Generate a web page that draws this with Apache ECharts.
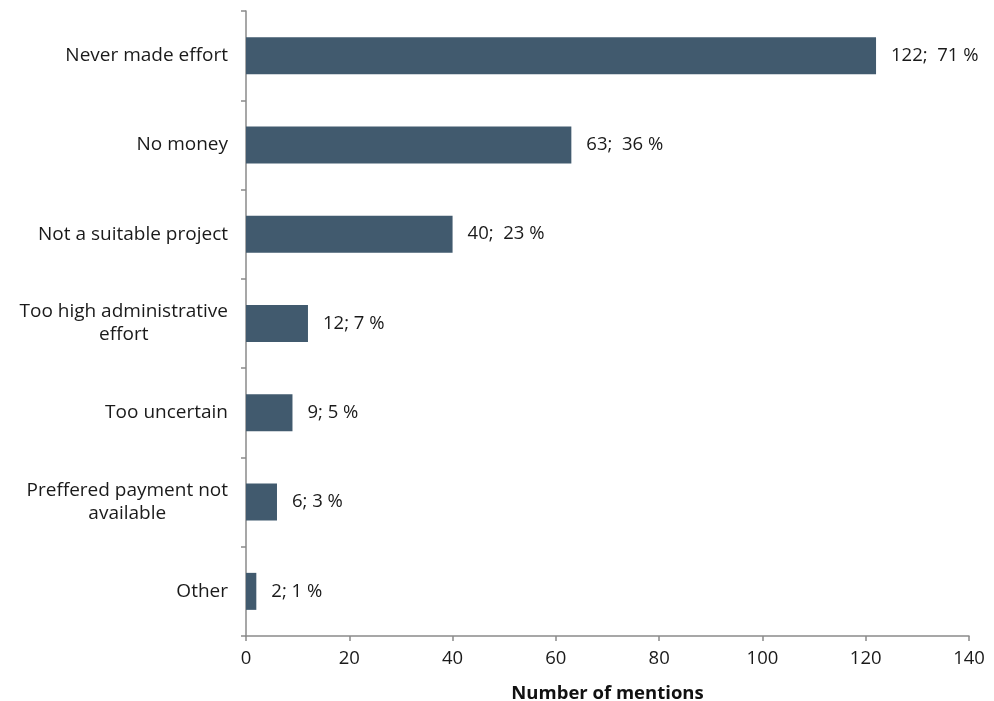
<!DOCTYPE html>
<html>
<head>
<meta charset="utf-8">
<script src="https://cdn.jsdelivr.net/npm/echarts@6/dist/echarts.min.js"></script>
<style>html,body{margin:0;padding:0;background:#fff}#c{width:994px;height:701px}</style>
</head>
<body>
<div id="c"></div>
<script>
const categories = ["Never made effort", "No money", "Not a suitable project", "Too high administrative\neffort", "Too uncertain", "Preffered payment not\navailable", "Other"];
const counts = [122, 63, 40, 12, 9, 6, 2];
const percents = [71, 36, 23, 7, 5, 3, 1];
const xTicks = [0, 20, 40, 60, 80, 100, 120, 140];

const FONT = '"Open Sans", "Noto Sans", sans-serif';
const FS = 18.5;
const chart = echarts.init(document.getElementById('c'), null, {renderer: 'canvas'});
chart.setOption({
  animation: false,
  grid: {left: 246, right: 25, top: 11, bottom: 65, containLabel: false, outerBoundsMode: 'none'},
  xAxis: {
    type: 'value', min: xTicks[0], max: xTicks[xTicks.length - 1], interval: 20,
    name: 'Number of mentions', nameLocation: 'middle', nameGap: 48,
    nameTextStyle: {fontFamily: FONT, fontSize: FS, fontWeight: 'bold', color: '#111'},
    axisLine: {show: true, lineStyle: {color: '#8a8a8a', width: 1.5}},
    axisTick: {show: true, length: 5, lineStyle: {color: '#8a8a8a', width: 1.5}},
    axisLabel: {fontFamily: FONT, fontSize: FS, color: '#1a1a1a', margin: 13},
    splitLine: {show: false}
  },
  yAxis: {
    type: 'category', data: categories, inverse: true,
    axisLine: {show: true, lineStyle: {color: '#8a8a8a', width: 1.5}},
    axisTick: {show: true, length: 5, lineStyle: {color: '#8a8a8a', width: 1.5}},
    axisLabel: {
      margin: 18, fontFamily: FONT, fontSize: 19, color: '#1a1a1a',
      formatter: v => v.split('\n').map(l => '{c|' + l + '}').join('\n'),
      rich: {c: {align: 'center', fontFamily: FONT, fontSize: 19, color: '#1a1a1a', lineHeight: 23}}
    }
  },
  series: [{
    type: 'bar',
    data: counts,
    barWidth: 37,
    itemStyle: {color: '#415a6e'},
    label: {
      show: true, position: 'right', distance: 15,
      fontFamily: FONT, fontSize: FS, color: '#1a1a1a',
      formatter: p => counts[p.dataIndex] + ';' + (percents[p.dataIndex] >= 10 ? '  ' : ' ') + percents[p.dataIndex] + ' %'
    }
  }]
});
</script>
</body>
</html>
